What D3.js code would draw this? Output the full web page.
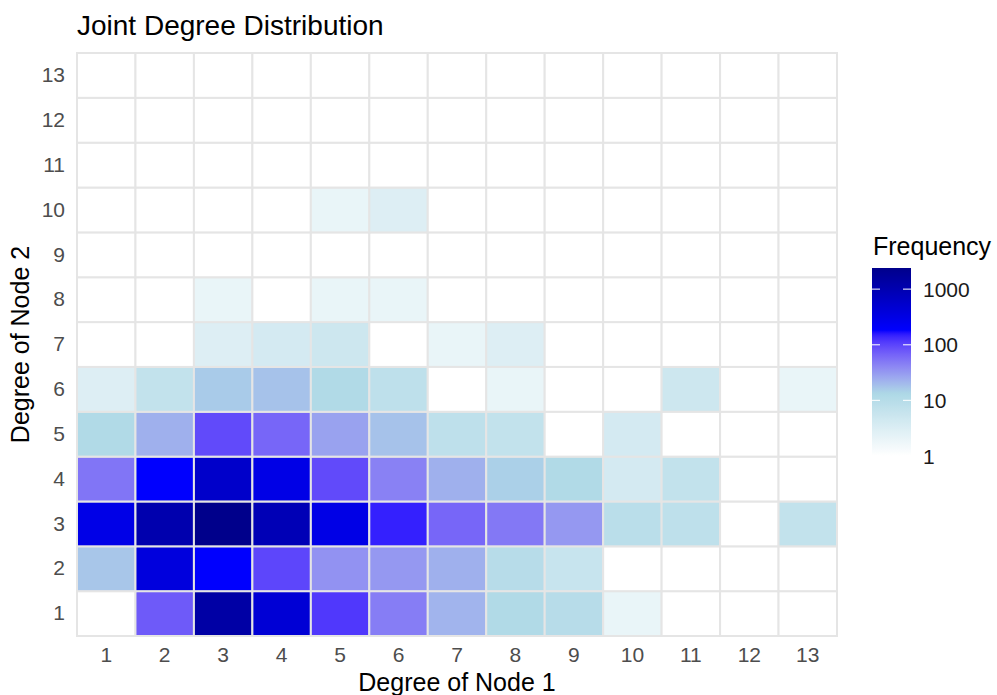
<!DOCTYPE html>
<html>
<head>
<meta charset="utf-8">
<script src="https://cdn.jsdelivr.net/npm/d3@7/dist/d3.min.js"></script>
<style>
  html, body { margin: 0; padding: 0; background: #ffffff; }
  svg { display: block; font-family: "Liberation Sans", Arial, Helvetica, sans-serif; }
</style>
</head>
<body>
<svg id="chart" width="997" height="695"></svg>
<script>
// Degrees shown on both axes
const degrees = [1, 2, 3, 4, 5, 6, 7, 8, 9, 10, 11, 12, 13];

// Edge counts, one row per degree of node 2 (row i = degree i+1), columns = degree of node 1
const freqByDegree2 = [
  [1,   75, 1300, 440, 115,  47, 22, 12, 10, 2, 1, 1, 1],   // 1
  [17, 370,  182,  98,  35,  32, 23, 10,  6, 1, 1, 1, 1],   // 2
  [300, 1070, 2400, 890, 306, 148, 64, 50, 32, 9, 8, 1, 7], // 3
  [52, 182,  571, 306,  92,  44, 23, 15, 12, 4, 7, 1, 1],   // 4
  [12,  23,   92,  64,  28,  18,  8,  7,  1, 4, 1, 1, 1],   // 5
  [3,    7,   16,  18,  12,   8,  1,  2,  1, 1, 5, 1, 2],   // 6
  [1,    1,    3,   4,   5,   1,  2,  3,  1, 1, 1, 1, 1],   // 7
  [1,    1,    2,   1,   2,   2,  1,  1,  1, 1, 1, 1, 1],   // 8
  [1,    1,    1,   1,   1,   1,  1,  1,  1, 1, 1, 1, 1],   // 9
  [1,    1,    1,   1,   2,   3,  1,  1,  1, 1, 1, 1, 1],   // 10
  [1,    1,    1,   1,   1,   1,  1,  1,  1, 1, 1, 1, 1],   // 11
  [1,    1,    1,   1,   1,   1,  1,  1,  1, 1, 1, 1, 1],   // 12
  [1,    1,    1,   1,   1,   1,  1,  1,  1, 1, 1, 1, 1]    // 13
];

// Colour ramp and legend breaks
const rampColours = ["white", "lightblue", "blue", "darkblue"];
const legendBreaks = [1, 10, 100, 1000];

const titleText = "Joint Degree Distribution";
const xTitle = "Degree of Node 1";
const yTitle = "Degree of Node 2";
const legendTitle = "Frequency";

// ---- layout ----
const panel = { left: 77, right: 837, top: 53, bottom: 636 };

const svg = d3.select("#chart");

const x = d3.scaleBand().domain(degrees).range([panel.left, panel.right]).padding(0);
const y = d3.scaleBand().domain(degrees).range([panel.bottom, panel.top]).padding(0);

const cells = [];
freqByDegree2.forEach((row, i) => {
  row.forEach((v, j) => cells.push({ d1: degrees[j], d2: degrees[i], n: v }));
});
const maxN = d3.max(cells, d => d.n);

const tScale = d3.scaleLog().domain([1, maxN]).range([0, 1]);
const ramp = d3.piecewise(d3.interpolateLab, rampColours);
const fillFor = v => ramp(tScale(v));

// ---- tiles ----
svg.append("g")
  .selectAll("rect")
  .data(cells)
  .join("rect")
  .attr("x", d => x(d.d1))
  .attr("y", d => y(d.d2))
  .attr("width", x.bandwidth())
  .attr("height", y.bandwidth())
  .attr("fill", d => fillFor(d.n))
  .attr("stroke", "#e5e5e5")
  .attr("stroke-width", 2);

// ---- axes ----
const xAxis = svg.append("g")
  .attr("transform", `translate(0,${panel.bottom})`)
  .call(d3.axisBottom(x).tickSize(0).tickPadding(11));
const yAxis = svg.append("g")
  .attr("transform", `translate(${panel.left},0)`)
  .call(d3.axisLeft(y).tickSize(0).tickPadding(12));
[xAxis, yAxis].forEach(g => {
  g.select(".domain").remove();
  g.selectAll("text")
    .attr("font-family", "'Liberation Sans', Arial, sans-serif")
    .attr("font-size", 21)
    .attr("fill", "#4d4d4d");
});

// ---- titles ----
svg.append("text")
  .attr("x", panel.left)
  .attr("y", 35)
  .attr("font-size", 28)
  .attr("fill", "#000")
  .text(titleText);

svg.append("text")
  .attr("x", (panel.left + panel.right) / 2)
  .attr("y", 691)
  .attr("text-anchor", "middle")
  .attr("font-size", 25)
  .attr("fill", "#000")
  .text(xTitle);

svg.append("text")
  .attr("transform", `translate(29,${(panel.top + panel.bottom) / 2}) rotate(-90)`)
  .attr("text-anchor", "middle")
  .attr("font-size", 25)
  .attr("fill", "#000")
  .text(yTitle);

// ---- legend ----
const bar = { left: 872, width: 39, top: 268, bottom: 456 };
const legendY = d3.scaleLog().domain([1, maxN]).range([bar.bottom, bar.top]);

const grad = svg.append("defs").append("linearGradient")
  .attr("id", "freqGradient")
  .attr("x1", 0).attr("y1", 1).attr("x2", 0).attr("y2", 0);
d3.range(0, 101).forEach(i => {
  grad.append("stop")
    .attr("offset", `${i}%`)
    .attr("stop-color", ramp(i / 100));
});

svg.append("text")
  .attr("x", 873)
  .attr("y", 255)
  .attr("font-size", 25)
  .attr("fill", "#000")
  .text(legendTitle);

svg.append("rect")
  .attr("x", bar.left)
  .attr("y", bar.top)
  .attr("width", bar.width)
  .attr("height", bar.bottom - bar.top)
  .attr("fill", "url(#freqGradient)");

const ticks = svg.append("g");
legendBreaks.forEach(b => {
  const ty = legendY(b);
  ticks.append("line")
    .attr("x1", bar.left).attr("x2", bar.left + 8)
    .attr("y1", ty).attr("y2", ty)
    .attr("stroke", "#ffffff").attr("stroke-width", 1.2).attr("stroke-opacity", 0.85);
  ticks.append("line")
    .attr("x1", bar.left + bar.width - 8).attr("x2", bar.left + bar.width)
    .attr("y1", ty).attr("y2", ty)
    .attr("stroke", "#ffffff").attr("stroke-width", 1.2).attr("stroke-opacity", 0.85);
  ticks.append("text")
    .attr("x", 923)
    .attr("y", ty)
    .attr("dy", "0.36em")
    .attr("font-size", 21)
    .attr("fill", "#1a1a1a")
    .text(d3.format("d")(b));
});
</script>
</body>
</html>
